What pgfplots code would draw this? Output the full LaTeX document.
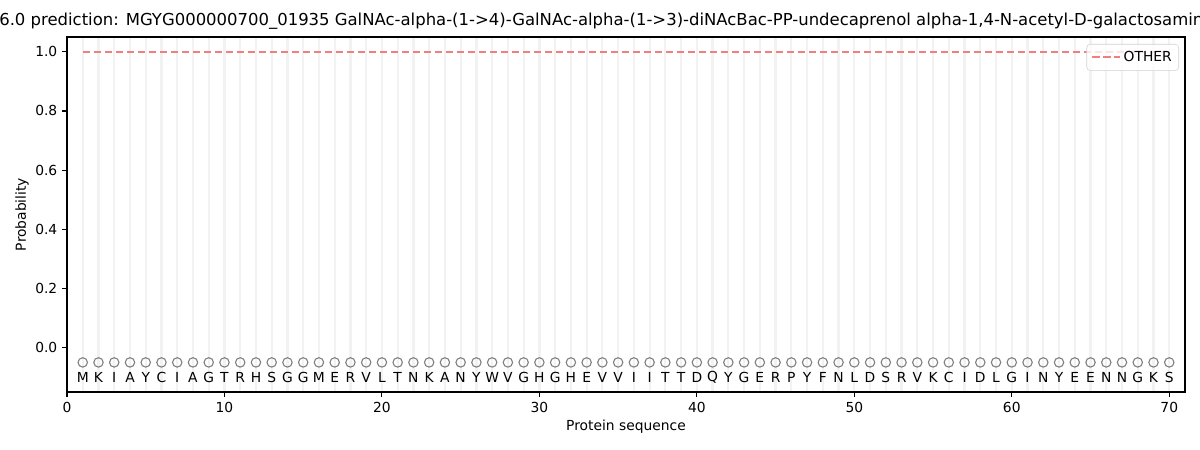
\documentclass[border=0pt]{standalone}
\usepackage{fontspec}
\setmainfont{DejaVu Sans}
\usepackage{pgfplots}
\usepackage{pgfplotstable}
\pgfplotsset{compat=1.18}

\definecolor{other}{RGB}{240,128,128}
\definecolor{gridgray}{RGB}{242,242,242}

% residue positions, marker row and letter row
\pgfplotstableread{
x y ylab res
1 -0.05 -0.10 M
2 -0.05 -0.10 K
3 -0.05 -0.10 I
4 -0.05 -0.10 A
5 -0.05 -0.10 Y
6 -0.05 -0.10 C
7 -0.05 -0.10 I
8 -0.05 -0.10 A
9 -0.05 -0.10 G
10 -0.05 -0.10 T
11 -0.05 -0.10 R
12 -0.05 -0.10 H
13 -0.05 -0.10 S
14 -0.05 -0.10 G
15 -0.05 -0.10 G
16 -0.05 -0.10 M
17 -0.05 -0.10 E
18 -0.05 -0.10 R
19 -0.05 -0.10 V
20 -0.05 -0.10 L
21 -0.05 -0.10 T
22 -0.05 -0.10 N
23 -0.05 -0.10 K
24 -0.05 -0.10 A
25 -0.05 -0.10 N
26 -0.05 -0.10 Y
27 -0.05 -0.10 W
28 -0.05 -0.10 V
29 -0.05 -0.10 G
30 -0.05 -0.10 H
31 -0.05 -0.10 G
32 -0.05 -0.10 H
33 -0.05 -0.10 E
34 -0.05 -0.10 V
35 -0.05 -0.10 V
36 -0.05 -0.10 I
37 -0.05 -0.10 I
38 -0.05 -0.10 T
39 -0.05 -0.10 T
40 -0.05 -0.10 D
41 -0.05 -0.10 Q
42 -0.05 -0.10 Y
43 -0.05 -0.10 G
44 -0.05 -0.10 E
45 -0.05 -0.10 R
46 -0.05 -0.10 P
47 -0.05 -0.10 Y
48 -0.05 -0.10 F
49 -0.05 -0.10 N
50 -0.05 -0.10 L
51 -0.05 -0.10 D
52 -0.05 -0.10 S
53 -0.05 -0.10 R
54 -0.05 -0.10 V
55 -0.05 -0.10 K
56 -0.05 -0.10 C
57 -0.05 -0.10 I
58 -0.05 -0.10 D
59 -0.05 -0.10 L
60 -0.05 -0.10 G
61 -0.05 -0.10 I
62 -0.05 -0.10 N
63 -0.05 -0.10 Y
64 -0.05 -0.10 E
65 -0.05 -0.10 E
66 -0.05 -0.10 N
67 -0.05 -0.10 N
68 -0.05 -0.10 G
69 -0.05 -0.10 K
70 -0.05 -0.10 S
}\seqtable

\begin{document}
\begin{tikzpicture}
\path[use as bounding box] (0,0) rectangle (12in,4.5in);
\node[anchor=base west, inner sep=0pt, font=\fontsize{11.9}{14}\selectfont] at (-0.01in,4.24in)
  {6.0 prediction: MGYG000000700\_01935 GalNAc-alpha-(1->4)-GalNAc-alpha-(1->3)-diNAcBac-PP-undecaprenol alpha-1,4-N-acetyl-D-galactosaminyltransferase};
\begin{axis}[
  at={(0.67in,0.58in)}, anchor=south west,
  scale only axis, width=11.18in, height=3.55in,
  xmin=0, xmax=71, ymin=-0.15, ymax=1.05,
  xtick={0,10,...,70},
  ytick={0,0.2,...,1.0},
  yticklabel style={/pgf/number format/.cd, fixed, fixed zerofill, precision=1},
  /pgf/number format/assume math mode=true,
  minor xtick={1,...,70},
  xminorgrids,
  minor grid style={draw=gridgray, line width=1.6pt},
  minor tick length=0pt,
  major tick length=3.5pt,
  tick align=outside,
  tick pos=left,
  tick style={black, line width=0.8pt},
  axis line style={line width=0.8pt},
  font=\fontsize{10}{12}\selectfont,
  xlabel={Protein sequence},
  ylabel={Probability},
  every axis x label/.style={at={(axis description cs:0.5,-0.099)}, anchor=center},
  every axis y label/.style={at={(axis description cs:-0.0403,0.5)}, rotate=90, anchor=center},
  legend style={at={(1,1)}, anchor=north east, xshift=-0.06in, yshift=-0.07in,
    draw=gray!35, rounded corners=2.5pt, fill=white, fill opacity=0.8, text opacity=1,
    font=\fontsize{10}{12}\selectfont, inner xsep=3pt, inner ysep=3pt},
  legend image code/.code={\draw[#1] (0cm,0cm) -- (0.71cm,0cm);},
]
\addplot[color=other, line width=1.5pt, dash pattern=on 5.55pt off 2.4pt]
  coordinates {(1,1.0) (70,1.0)};
\addlegendentry{OTHER}
\addplot[only marks, mark=o, mark size=3.4pt, draw=gray, mark options={line width=0.8pt}, forget plot]
  table[x=x, y=y] {\seqtable};
\addplot[only marks, mark=none, forget plot,
  nodes near coords, point meta=explicit symbolic,
  every node near coord/.append style={anchor=center, inner sep=0pt, font=\fontsize{10}{12}\selectfont}]
  table[x=x, y=ylab, meta=res] {\seqtable};
\end{axis}
\end{tikzpicture}
\end{document}
